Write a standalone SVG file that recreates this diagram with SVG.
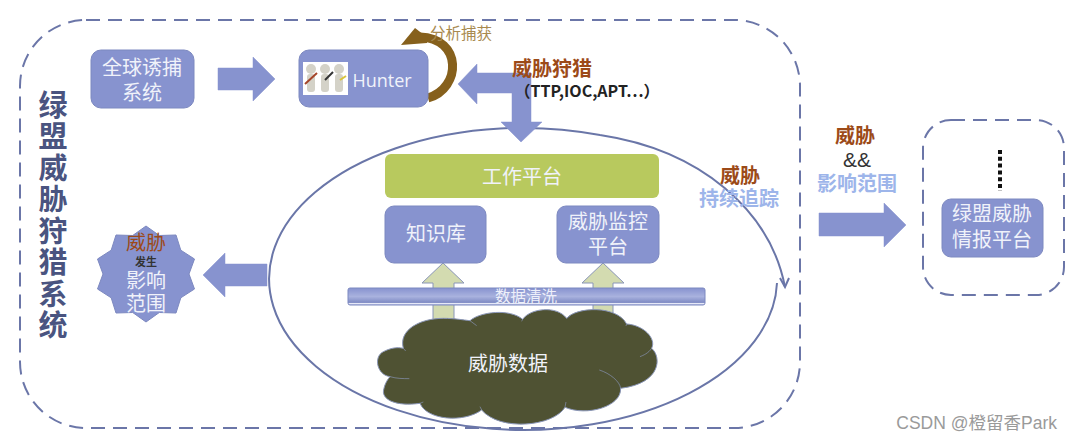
<svg xmlns="http://www.w3.org/2000/svg" width="1072" height="441" viewBox="0 0 1072 441">
<style>
text{font-family:"Noto Sans CJK SC","Noto Sans",sans-serif;text-anchor:middle}
.box{fill:#8793cf;stroke:#7d89c0;stroke-width:1}
.arrow{fill:#8793cf;stroke:#8793cf;stroke-width:.5}
.up{fill:#d3dbb0;stroke:#8a96b8;stroke-width:1}
.dash{fill:none;stroke:#6b76a8;stroke-width:2;stroke-dasharray:14 8}
.w{fill:#f0f2fa;font-size:20px}
.threat{fill:#9c4a18;font-size:20px;font-weight:700}
.scope{fill:#9db5ea;font-size:20px;font-weight:700}
.title{fill:#4a5480;font-size:29px;font-weight:700}
.line{fill:none;stroke:#6a76a8;stroke-width:2}
</style>
<defs>
<linearGradient id="bar" x1="0" y1="0" x2="0" y2="1">
<stop offset="0" stop-color="#8792cf"/><stop offset=".5" stop-color="#a9b2de"/><stop offset=".85" stop-color="#7f8bc4"/><stop offset=".9" stop-color="#eef0fa"/><stop offset="1" stop-color="#a9b2de"/>
</linearGradient>
</defs>
<rect width="1072" height="441" fill="#fff"/>
<g id="system-frame">
<rect class="dash" x="20" y="20" width="780" height="408" rx="66"/>
<text class="title"><tspan x="53" y="116">绿</tspan><tspan x="53" y="147">盟</tspan><tspan x="53" y="179">威</tspan><tspan x="53" y="210">胁</tspan><tspan x="53" y="242">狩</tspan><tspan x="53" y="273">猎</tspan><tspan x="53" y="305">系</tspan><tspan x="53" y="336">统</tspan></text>
</g>
<g id="connectors">
<path class="line" d="M777,283 A254,151 0 1 1 600,135 C700,150 770,210 785,287"/>
<polyline class="line" points="780,278 785,287 789,278"/>
<polygon class="arrow" points="218,68 253,68 253,57 275,79 253,101 253,90 218,90"/>
<polygon class="arrow" points="458,84 477,64 477,73 531,73 531,122 542,122 521,142 501,122 512,122 512,93 477,93 477,104"/>
<polygon class="arrow" points="203,275 225,253 225,264 267,264 267,286 225,286 225,297"/>
<polygon class="arrow" points="819,213 884,213 884,203 906,225 884,247 884,236 819,236"/>
<polygon class="up" points="443,263 464,283 454,283 454,325 433,325 433,283 422,283"/>
<polygon class="up" points="603,263 624,283 613,283 613,325 593,325 593,283 582,283"/>
<path fill="none" stroke="#86601c" stroke-width="9" d="M428,98 C462,88 462,38 420,37"/>
<polygon fill="#86601c" points="415,28 428,38 427,43 401,45"/>
</g>
<g id="global-trap"><rect class="box" x="91" y="50" width="103" height="58" rx="10"/><text class="w"><tspan x="142" y="75">全球诱捕</tspan><tspan x="142" y="100">系统</tspan></text></g>
<g id="hunter"><rect class="box" x="299" y="50" width="129" height="57" rx="10"/>
<rect x="303" y="62" width="45" height="33" fill="#fff"/>
<g fill="#d4d2c8"><circle cx="311" cy="69" r="5"/><circle cx="325" cy="69" r="5"/><circle cx="339" cy="69" r="5"/><rect x="307" y="74" width="8" height="18" rx="3"/><rect x="321" y="74" width="8" height="18" rx="3"/><rect x="335" y="74" width="8" height="18" rx="3"/></g>
<path d="M305,84 L317,73" stroke="#a5452a" stroke-width="2"/><path d="M325,80 L333,72" stroke="#333" stroke-width="2"/><path d="M340,80 L346,76" stroke="#d9c53a" stroke-width="2"/>
<text x="382" y="87" font-size="18" fill="#f0f2fa" style="font-family:'Open Sans',sans-serif">Hunter</text></g>
<text x="461" y="39" font-size="15.5" fill="#a88a4f">分析捕获</text>
<text x="552" y="76" class="threat">威胁狩猎</text>
<text x="587" y="97" font-size="16" font-weight="700" fill="#222">（TTP,IOC,APT⋯）</text>
<g id="platform"><rect x="385" y="154" width="274" height="44" rx="6" fill="#b8c95e"/><text class="w" x="522" y="184">工作平台</text></g>
<g id="knowledge"><rect class="box" x="385" y="206" width="101" height="57" rx="9"/><text class="w" x="436" y="241">知识库</text></g>
<g id="monitor"><rect class="box" x="557" y="206" width="102" height="57" rx="9"/><text class="w"><tspan x="608" y="229">威胁监控</tspan><tspan x="608" y="254">平台</tspan></text></g>
<g id="cleaning"><rect x="348" y="288" width="357" height="17" rx="2" fill="url(#bar)" stroke="#7d89c0"/><text x="526" y="302" font-size="15.5" fill="#eef0fa">数据清洗</text></g>
<g id="threat-data">
<g transform="translate(340,250) scale(.3333)">
<path fill="#4f5233" stroke="#8a96b8" stroke-width="3" d="M190,295 C175,240 240,205 310,205 C345,205 370,210 390,212 C420,185 510,175 548,208 C570,175 650,165 680,205 C710,170 830,165 860,222 C910,225 950,265 935,295 C965,320 965,400 842,415 C845,470 740,500 675,472 C640,530 480,545 425,480 C370,520 260,510 240,460 C170,470 120,450 132,415 C135,400 145,385 150,380 C110,375 100,320 130,305 C150,295 170,290 190,295 Z"/>
<path fill="none" stroke="#8a96b8" stroke-width="2" d="M150,380 C170,386 190,386 208,386 M240,460 L250,456 M425,480 L420,470 M675,472 L678,456 M842,415 C840,395 810,370 778,360 M935,295 C925,310 910,316 900,320 M860,222 L858,228 M680,205 L690,197 M548,208 L545,214 M390,212 L410,227 M190,295 L197,303"/>
</g>
<text class="w" x="508" y="371">威胁数据</text></g>
<g id="impact"><polygon class="box" points="146,226 159.3,235.5 176,235 180.8,250.2 194.5,259 189,274 194.5,289 180.8,297.8 176,313 159.3,312.5 146,322 132.7,312.5 116,313 111.2,297.8 97.5,289 103,274 97.5,259 111.2,250.2 116,235 132.7,235.5"/>
<text class="w"><tspan x="146" y="250" fill="#9c4a18">威胁</tspan><tspan x="146" y="266" font-size="11" font-weight="700" fill="#333">发生</tspan><tspan x="146" y="288">影响</tspan><tspan x="146" y="311">范围</tspan></text></g>
<text class="threat"><tspan x="740" y="183">威胁</tspan><tspan x="739" y="206" fill="#9db5ea">持续追踪</tspan></text>
<text class="threat"><tspan x="855" y="143">威胁</tspan><tspan x="857" y="167" font-size="21" font-weight="400" fill="#333" style="font-family:'Liberation Sans',sans-serif">&amp;&amp;</tspan><tspan x="857" y="191" fill="#9db5ea">影响范围</tspan></text>
<g id="intel-frame"><rect class="dash" x="923" y="120" width="141" height="175" rx="28"/>
<line x1="1000" y1="150" x2="1000" y2="191" stroke="#111" stroke-width="4" stroke-dasharray="4 2.8"/></g>
<g id="intel-platform"><rect class="box" x="942" y="199" width="101" height="58" rx="9"/><text class="w"><tspan x="992" y="221">绿盟威胁</tspan><tspan x="992" y="247">情报平台</tspan></text></g>
<text x="1057" y="429" font-size="17.5" fill="#9a9a9a" style="text-anchor:end;font-family:'Liberation Sans','Noto Sans CJK SC',sans-serif">CSDN @橙留香Park</text>
</svg>
